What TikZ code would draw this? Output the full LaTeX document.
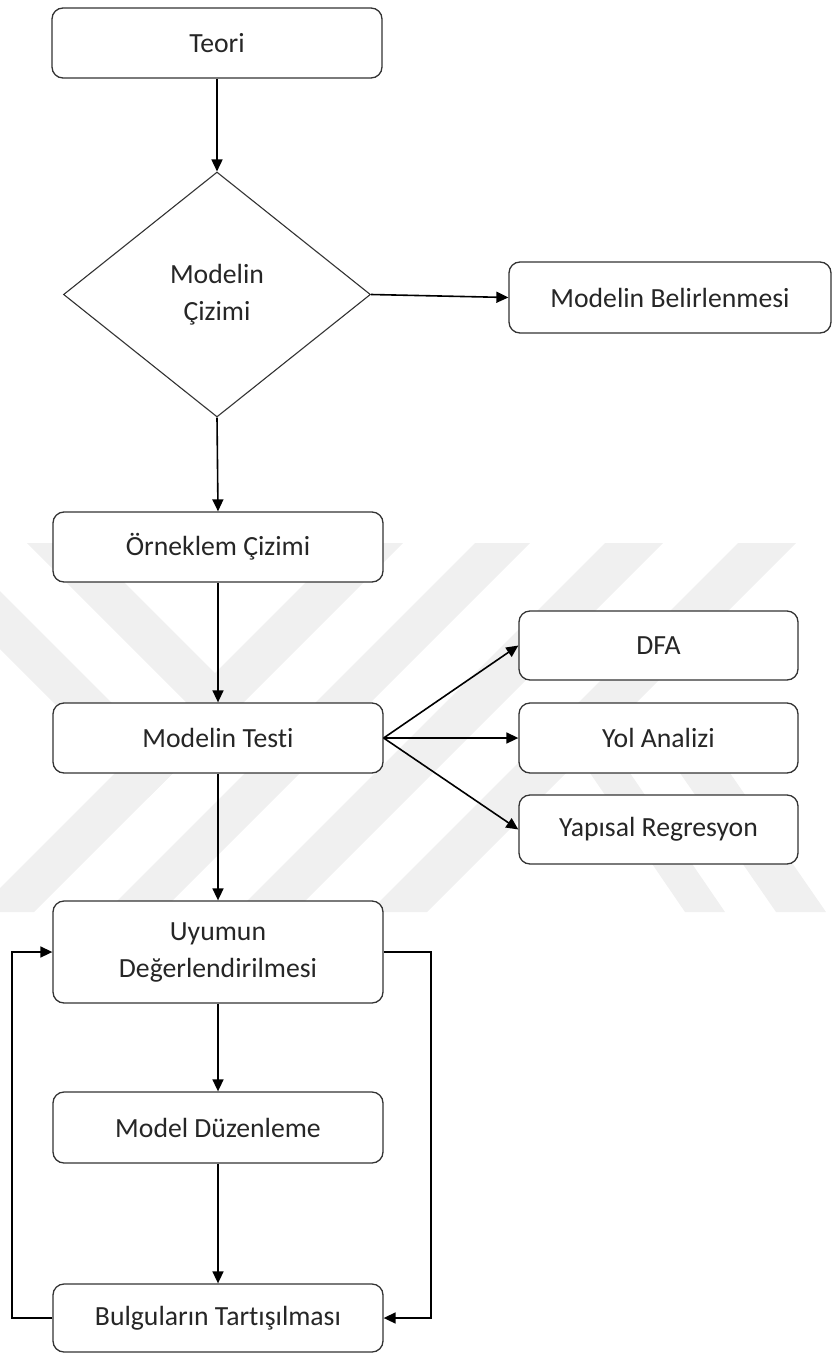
\documentclass[tikz,border=0pt]{standalone}
\usepackage{fontspec}
\setmainfont[Ligatures=NoCommon]{Carlito}
\usetikzlibrary{arrows.meta,shapes.geometric}

\tikzset{
  stepbox/.style={draw=black!80, line width=1.3pt, fill=white, rounded corners=11pt,
    minimum width=330pt, minimum height=70pt, inner sep=0pt, align=center,
    font=\fontsize{27.7}{37}\selectfont, text=black!85},
  sidebox/.style={stepbox, minimum width=279pt, minimum height=69pt},
  decision/.style={diamond, draw=black!80, line width=1.1pt, fill=white,
    minimum width=307pt, minimum height=245pt, inner sep=0pt, align=center,
    font=\fontsize{27.7}{37}\selectfont, text=black!85},
  arr/.style={line width=1.6pt, -{Triangle[length=12pt,width=11pt]}},
  band/.style={fill=black!6, draw=none}
}

\begin{document}
\begin{tikzpicture}[x=1pt,y=-1pt]
\useasboundingbox (0,0) rectangle (832,1354);

% faint striped emblem in the background
\begin{scope}
  \clip (0,543) rectangle (832,912);
  \fill[band] (345,543) -- (403,543) -- (34,912) -- (-24,912) -- cycle;
  \fill[band] (475,543) -- (530,543) -- (161,912) -- (106,912) -- cycle;
  \fill[band] (605,543) -- (663,543) -- (294,912) -- (236,912) -- cycle;
  \fill[band] (738,543) -- (796,543) -- (427,912) -- (369,912) -- cycle;
  \fill[band] (27,543) -- (85,543) -- (244,702) -- (215,731) -- cycle;
  \fill[band] (-106,543) -- (-48,543) -- (177.5,768.5) -- (148.5,797.5) -- cycle;
  \fill[band] (564,735) -- (604,735) -- (725,912) -- (685,912) -- cycle;
  \fill[band] (671,760) -- (721,760) -- (826,912) -- (776,912) -- cycle;
\end{scope}

% main column
\node[stepbox] (teori) at (217,43) {Teori};
\node[decision] (cizim) at (217,294.5) {Modelin\\Çizimi};
\node[stepbox, minimum width=322pt, minimum height=71pt] (belir) at (670,297.5) {Modelin Belirlenmesi};
\node[stepbox] (orn) at (218,547) {Örneklem Çizimi};
\node[stepbox] (test) at (218,738) {Modelin Testi};
\node[stepbox, minimum height=102pt] (uyum) at (218,952) {Uyumun\\Değerlendirilmesi};
\node[stepbox, minimum height=71pt] (duzen) at (218,1127.5) {Model Düzenleme};
\node[stepbox, minimum height=68pt] (bulgu) at (218,1318) {Bulguların Tartışılması};

% analysis options
\node[sidebox] (dfa) at (658.5,645.5) {DFA};
\node[sidebox, minimum height=70pt] (yol) at (658.5,738) {Yol Analizi};
\node[sidebox] (yapi) at (658.5,829.5) {Yapısal Regresyon};

% connectors
\draw[arr] (teori.south) -- (cizim.north);
\draw[arr] (cizim.east) -- (belir.west);
\draw[arr] (cizim.south) -- (orn.north);
\draw[arr] (orn.south) -- (test.north);
\draw[arr] (test.east) -- (dfa.west);
\draw[arr] (test.east) -- (yol.west);
\draw[arr] (test.east) -- (yapi.west);
\draw[arr] (test.south) -- (uyum.north);
\draw[arr] (uyum.south) -- (duzen.north);
\draw[arr] (duzen.south) -- (bulgu.north);

% feedback loops
\coordinate (leftrail) at (12,0);
\coordinate (rightrail) at (431,0);
\draw[arr] (bulgu.west) -- (bulgu.west -| leftrail) -- (uyum.west -| leftrail) -- (uyum.west);
\draw[arr] (uyum.east) -- (uyum.east -| rightrail) -- (bulgu.east -| rightrail) -- (bulgu.east);
\end{tikzpicture}
\end{document}
